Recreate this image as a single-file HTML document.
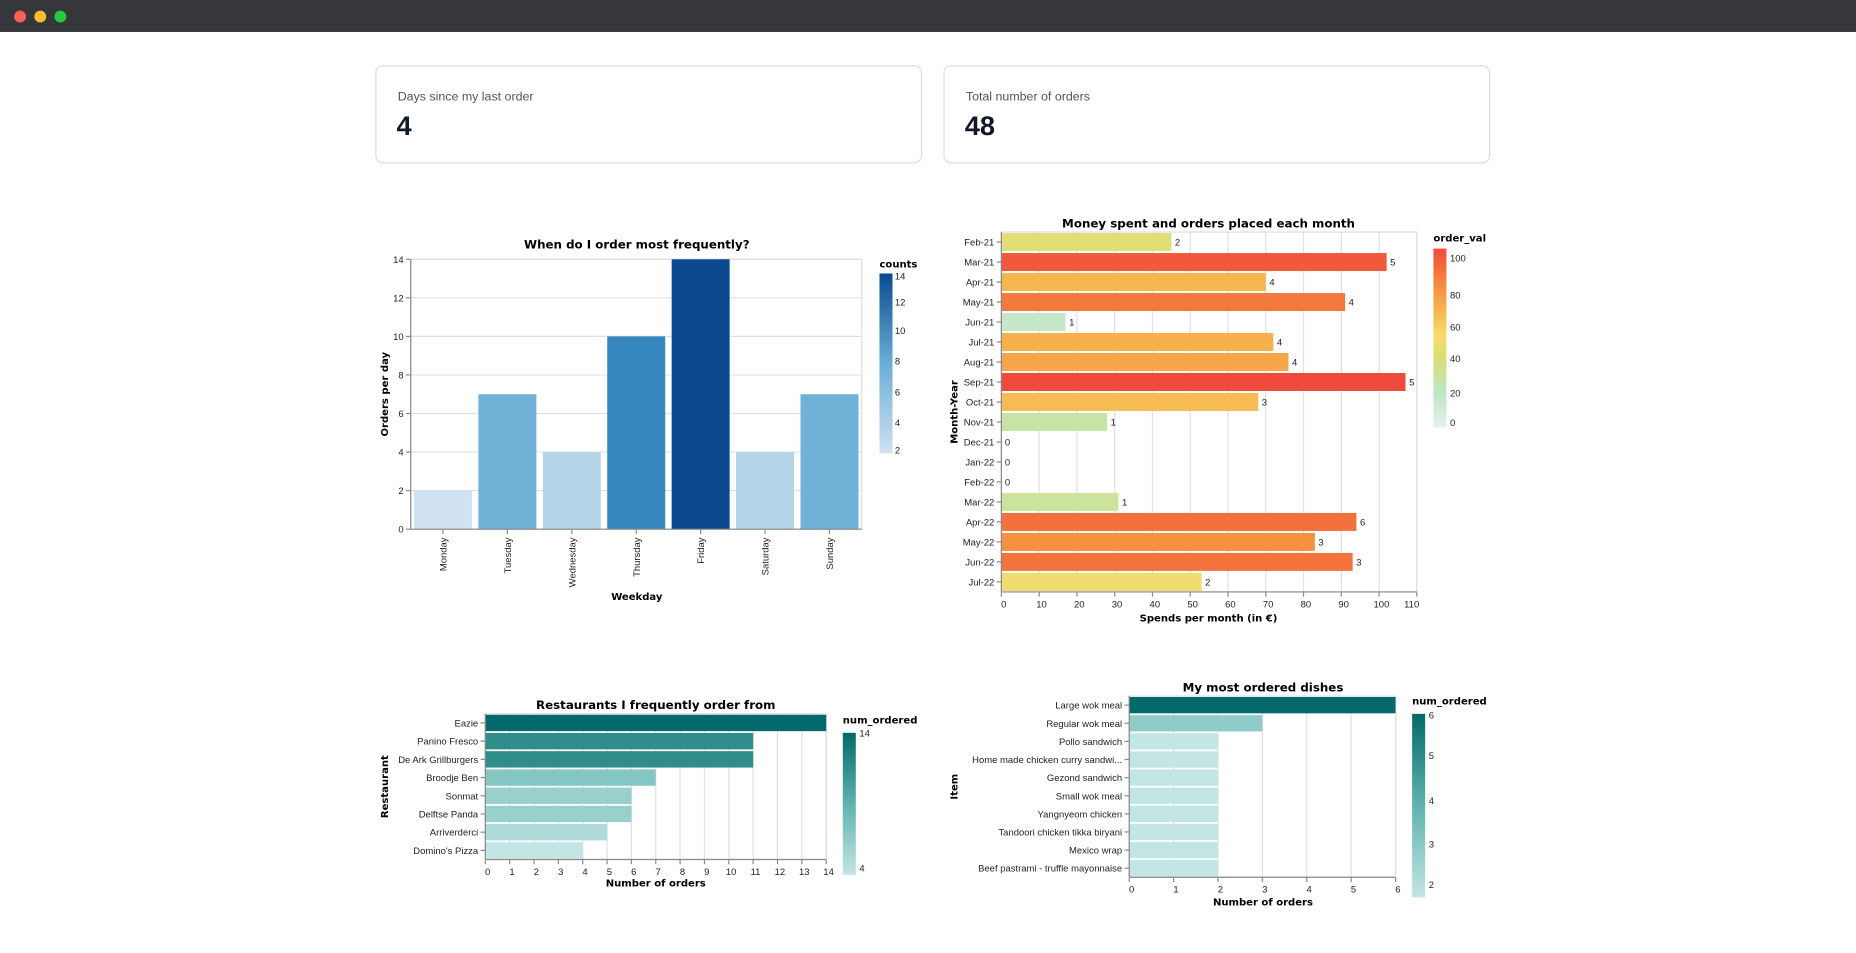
<!DOCTYPE html>
<html><head><meta charset="utf-8"><style>
html,body{margin:0;padding:0;background:#fff;}
svg{display:block;}
text{font-family:"Liberation Sans","DejaVu Sans",sans-serif;}
.tick{font-size:8px;fill:#222;}
.ttl{font-family:"DejaVu Sans",sans-serif;font-weight:bold;font-size:10px;fill:#000;}
.atl{font-family:"DejaVu Sans",sans-serif;font-weight:bold;font-size:8.5px;fill:#000;}
</style></head><body>
<svg id="root" width="1856" height="953" viewBox="0 0 1568 805" preserveAspectRatio="none" xmlns="http://www.w3.org/2000/svg">
<defs>
<linearGradient id="gBlue" x1="0" y1="1" x2="0" y2="0"><stop offset="0" stop-color="#cfe1f2"/><stop offset="0.5" stop-color="#6aaed6"/><stop offset="1" stop-color="#0b4a90"/></linearGradient>
<linearGradient id="gHeat" x1="0" y1="1" x2="0" y2="0"><stop offset="0" stop-color="#dff2ee"/><stop offset="0.2" stop-color="#bfe6bf"/><stop offset="0.38" stop-color="#d7df7a"/><stop offset="0.52" stop-color="#f5dc6a"/><stop offset="0.66" stop-color="#f6b44d"/><stop offset="0.8" stop-color="#f58a3e"/><stop offset="1" stop-color="#ef4a3b"/></linearGradient>
<linearGradient id="gTeal" x1="0" y1="1" x2="0" y2="0"><stop offset="0" stop-color="#c3e5e4"/><stop offset="0.5" stop-color="#5fb3ae"/><stop offset="1" stop-color="#04696a"/></linearGradient>
</defs>
<rect x="0" y="0" width="1568" height="27" fill="#36373a"/>
<circle cx="17" cy="14" r="5" fill="#fe5f57"/>
<circle cx="34" cy="14" r="5" fill="#febc2e"/>
<circle cx="51" cy="14" r="5" fill="#28c840"/>
<g>
<rect x="317.5" y="55.5" width="461" height="82" rx="6" fill="#fff" stroke="#dcdde2"/>
<text x="336" y="85" style="font-size:10.5px;fill:#4b5563">Days since my last order</text>
<text x="335" y="114" style="font-size:23px;font-weight:bold;fill:#111827">4</text>
</g>
<g>
<rect x="797.5" y="55.5" width="461" height="82" rx="6" fill="#fff" stroke="#dcdde2"/>
<text x="816" y="85" style="font-size:10.5px;fill:#4b5563">Total number of orders</text>
<text x="815" y="114" style="font-size:23px;font-weight:bold;fill:#111827">48</text>
</g>
<g id="c1"></g>
<g id="c2"></g>
<g id="c3"></g>
<g id="c4"></g>
</svg>
<script>
const weekdays=["Monday","Tuesday","Wednesday","Thursday","Friday","Saturday","Sunday"];
const weekdayCounts=[2,7,4,10,14,4,7];
const weekdayTicks=[0,2,4,6,8,10,12,14];
const months=["Feb-21","Mar-21","Apr-21","May-21","Jun-21","Jul-21","Aug-21","Sep-21","Oct-21","Nov-21","Dec-21","Jan-22","Feb-22","Mar-22","Apr-22","May-22","Jun-22","Jul-22"];
const monthSpend=[45,102,70,91,17,72,76,107,68,28,0,0,0,31,94,83,93,53];
const monthOrders=[2,5,4,4,1,4,4,5,3,1,0,0,0,1,6,3,3,2];
const spendTicks=[0,10,20,30,40,50,60,70,80,90,100,110];
const restaurants=["Eazie","Panino Fresco","De Ark Grillburgers","Broodje Ben","Sonmat","Delftse Panda","Arriverderci","Domino's Pizza"];
const restaurantCounts=[14,11,11,7,6,6,5,4];
const restaurantTicks=[0,1,2,3,4,5,6,7,8,9,10,11,12,13,14];
const dishes=["Large wok meal","Regular wok meal","Pollo sandwich","Home made chicken curry sandwi...","Gezond sandwich","Small wok meal","Yangnyeom chicken","Tandoori chicken tikka biryani","Mexico wrap","Beef pastrami - truffle mayonnaise"];
const dishCounts=[6,3,2,2,2,2,2,2,2,2];
const dishTicks=[0,1,2,3,4,5,6];

const NS="http://www.w3.org/2000/svg";
function mk(p,tag,a,txt){const e=document.createElementNS(NS,tag);for(const k in a)e.setAttribute(k,a[k]);if(txt!==undefined)e.textContent=txt;p.appendChild(e);return e;}
function hex(h){return [1,3,5].map(i=>parseInt(h.substr(i,2),16));}
function interp(stops,t){t=Math.max(0,Math.min(1,t));for(let i=1;i<stops.length;i++){if(t<=stops[i][0]){const a=stops[i-1],b=stops[i];const f=(t-a[0])/(b[0]-a[0]||1);const ca=hex(a[1]),cb=hex(b[1]);return "rgb("+ca.map((v,j)=>Math.round(v+(cb[j]-v)*f)).join(",")+")";}}return stops[stops.length-1][1];}
const blue=[[0,"#cfe1f2"],[0.2,"#afd1e7"],[0.42,"#6fb0d7"],[0.67,"#3787c0"],[1,"#0b4a90"]];
const heat=[[0,"#dff2ee"],[0.2,"#bfe6bf"],[0.38,"#d7df7a"],[0.52,"#f5dc6a"],[0.66,"#f6b44d"],[0.8,"#f58a3e"],[1,"#ef4a3b"]];
const teal=[[0,"#c3e5e4"],[0.3,"#84c6c2"],[0.6,"#3d9995"],[1,"#04696a"]];

(function(){
const g=document.getElementById('c1');
const L=347,R=728,T=219,B=447,max=14;
const y=v=>B-(v/max)*(B-T);
const step=(R-L)/weekdays.length;
mk(g,'text',{class:'ttl','text-anchor':'middle',x:538,y:210},'When do I order most frequently?');
weekdayTicks.forEach(t=>{
 const gl=mk(g,'line',{x1:L,x2:R,y1:y(t),y2:y(t),stroke:'#e0e0e0'});
 
 mk(g,'line',{x1:L-4,x2:L,y1:y(t),y2:y(t),stroke:'#888'});
 const tl=mk(g,'text',{class:'tick','text-anchor':'end',x:L-6,y:y(t)+3},t);
 
});
mk(g,'rect',{x:L,y:T,width:R-L,height:B-T,fill:'none',stroke:'#ddd'});
weekdays.forEach((d,i)=>{
 const x0=L+i*step+step*0.05,w=step*0.9;
 const r=mk(g,'rect',{x:x0,y:y(weekdayCounts[i]),width:w,height:B-y(weekdayCounts[i]),fill:interp(blue,(weekdayCounts[i]-2)/12)});
 
 const cx=L+(i+0.5)*step;
 mk(g,'line',{x1:cx,x2:cx,y1:B,y2:B+4,stroke:'#888'});
 const tl=mk(g,'text',{class:'tick','text-anchor':'end',transform:`translate(${cx+3},${B+7}) rotate(-90)`},d);
 
});
mk(g,'line',{x1:L,x2:R,y1:B,y2:B,stroke:'#888'});
mk(g,'line',{x1:L,x2:L,y1:T,y2:B,stroke:'#888'});
mk(g,'text',{class:'atl','text-anchor':'middle',x:538,y:507},'Weekday');
mk(g,'text',{class:'atl','text-anchor':'middle',transform:'translate(328,333) rotate(-90)'},'Orders per day');
mk(g,'text',{class:'atl',x:743,y:226},'counts');
mk(g,'rect',{x:743,y:231,width:11,height:152,fill:'url(#gBlue)'});
[[14,236],[12,258],[10,282],[8,308],[6,334],[4,360],[2,383]].forEach(p=>mk(g,'text',{class:'tick',x:756,y:p[1]},p[0]));
})();

(function(){
const g=document.getElementById('c2');
const L=846,R=1197,T=196,B=500,max=110;
const x=v=>L+(v/max)*(R-L);
const step=(B-T)/months.length;
mk(g,'text',{class:'ttl','text-anchor':'middle',x:1021,y:192},'Money spent and orders placed each month');
spendTicks.forEach(t=>{
 const gl=mk(g,'line',{x1:x(t),x2:x(t),y1:T,y2:B,stroke:'#e0e0e0'});
 
 mk(g,'line',{x1:x(t),x2:x(t),y1:B,y2:B+4,stroke:'#888'});
 const tl=mk(g,'text',{class:'tick','text-anchor':t===110?'end':'middle',x:t===110?x(t)+2:x(t)+2,y:B+13},t);
 
});
mk(g,'rect',{x:L,y:T,width:R-L,height:B-T,fill:'none',stroke:'#ddd'});
months.forEach((m,i)=>{
 const cy=T+(i+0.5)*step;
 const r=mk(g,'rect',{x:L,y:T+i*step+step*0.05,width:x(monthSpend[i])-L,height:step*0.9,fill:interp(heat,monthSpend[i]/107)});
 
 const vl=mk(g,'text',{class:'tick',x:x(monthSpend[i])+3,y:cy+3},monthOrders[i]);
 
 mk(g,'line',{x1:L-4,x2:L,y1:cy,y2:cy,stroke:'#888'});
 const tl=mk(g,'text',{class:'tick','text-anchor':'end',x:L-6,y:cy+3},m);
 
});
mk(g,'line',{x1:L,x2:R,y1:B,y2:B,stroke:'#888'});
mk(g,'line',{x1:L,x2:L,y1:T,y2:B,stroke:'#888'});
mk(g,'text',{class:'atl','text-anchor':'middle',x:1021,y:525},'Spends per month (in €)');
mk(g,'text',{class:'atl','text-anchor':'middle',transform:'translate(809,348) rotate(-90)'},'Month-Year');
mk(g,'text',{class:'atl',x:1211,y:204},'order_val');
mk(g,'rect',{x:1211,y:210,width:11,height:151,fill:'url(#gHeat)'});
[[100,221],[80,252],[60,279],[40,306],[20,335],[0,360]].forEach(p=>mk(g,'text',{class:'tick',x:1225,y:p[1]},p[0]));
})();

function hchart(id,cats,vals,ticks,o){
const g=document.getElementById(id);
const {L,R,T,B,max,title,tx,ty,xty,yt,ytx,leg,vmin,vmax}=o;
const x=v=>L+(v/max)*(R-L);
const step=(B-T)/cats.length;
mk(g,'text',{class:'ttl','text-anchor':'middle',x:tx,y:ty},title);
ticks.forEach(t=>{
 const gl=mk(g,'line',{x1:x(t),x2:x(t),y1:T,y2:B,stroke:'#e0e0e0'});
 
 mk(g,'line',{x1:x(t),x2:x(t),y1:B,y2:B+4,stroke:'#888'});
 const tl=mk(g,'text',{class:'tick','text-anchor':'middle',x:x(t)+2,y:B+13},t);
 
});
mk(g,'rect',{x:L,y:T,width:R-L,height:B-T,fill:'none',stroke:'#ddd'});
cats.forEach((c,i)=>{
 const cy=T+(i+0.5)*step;
 const r=mk(g,'rect',{x:L,y:T+i*step+step*0.05,width:x(vals[i])-L,height:step*0.9,fill:interp(teal,(vals[i]-vmin)/(vmax-vmin))});
 
 mk(g,'line',{x1:L-4,x2:L,y1:cy,y2:cy,stroke:'#888'});
 const tl=mk(g,'text',{class:'tick','text-anchor':'end',x:L-6,y:cy+3},c);
 
});
mk(g,'line',{x1:L,x2:R,y1:B,y2:B,stroke:'#888'});
mk(g,'line',{x1:L,x2:L,y1:T,y2:B,stroke:'#888'});
mk(g,'text',{class:'atl','text-anchor':'middle',x:tx,y:xty},'Number of orders');
mk(g,'text',{class:'atl','text-anchor':'middle',transform:`translate(${ytx},${(T+B)/2}) rotate(-90)`},yt);
mk(g,'text',{class:'atl',x:leg.x,y:leg.y},'num_ordered');
mk(g,'rect',{x:leg.x,y:leg.y+8,width:11,height:leg.h,fill:'url(#gTeal)'});
leg.labels.forEach(p=>mk(g,'text',{class:'tick',x:leg.x+14,y:p[1]},p[0]));
}
hchart('c3',restaurants,restaurantCounts,restaurantTicks,{L:410,R:698,T:603,B:726,max:14,title:'Restaurants I frequently order from',tx:554,ty:599,xty:749,yt:'Restaurant',ytx:328,vmin:4,vmax:14,
 leg:{x:712,y:611,h:120,labels:[[14,622],[4,736]]}});
hchart('c4',dishes,dishCounts,dishTicks,{L:954,R:1179,T:588,B:741,max:6,title:'My most ordered dishes',tx:1067,ty:584,xty:765,yt:'Item',ytx:809,vmin:2,vmax:6,
 leg:{x:1193,y:595,h:155,labels:[[6,607],[5,641],[4,679],[3,716],[2,750]]}});
</script>
</body></html>
